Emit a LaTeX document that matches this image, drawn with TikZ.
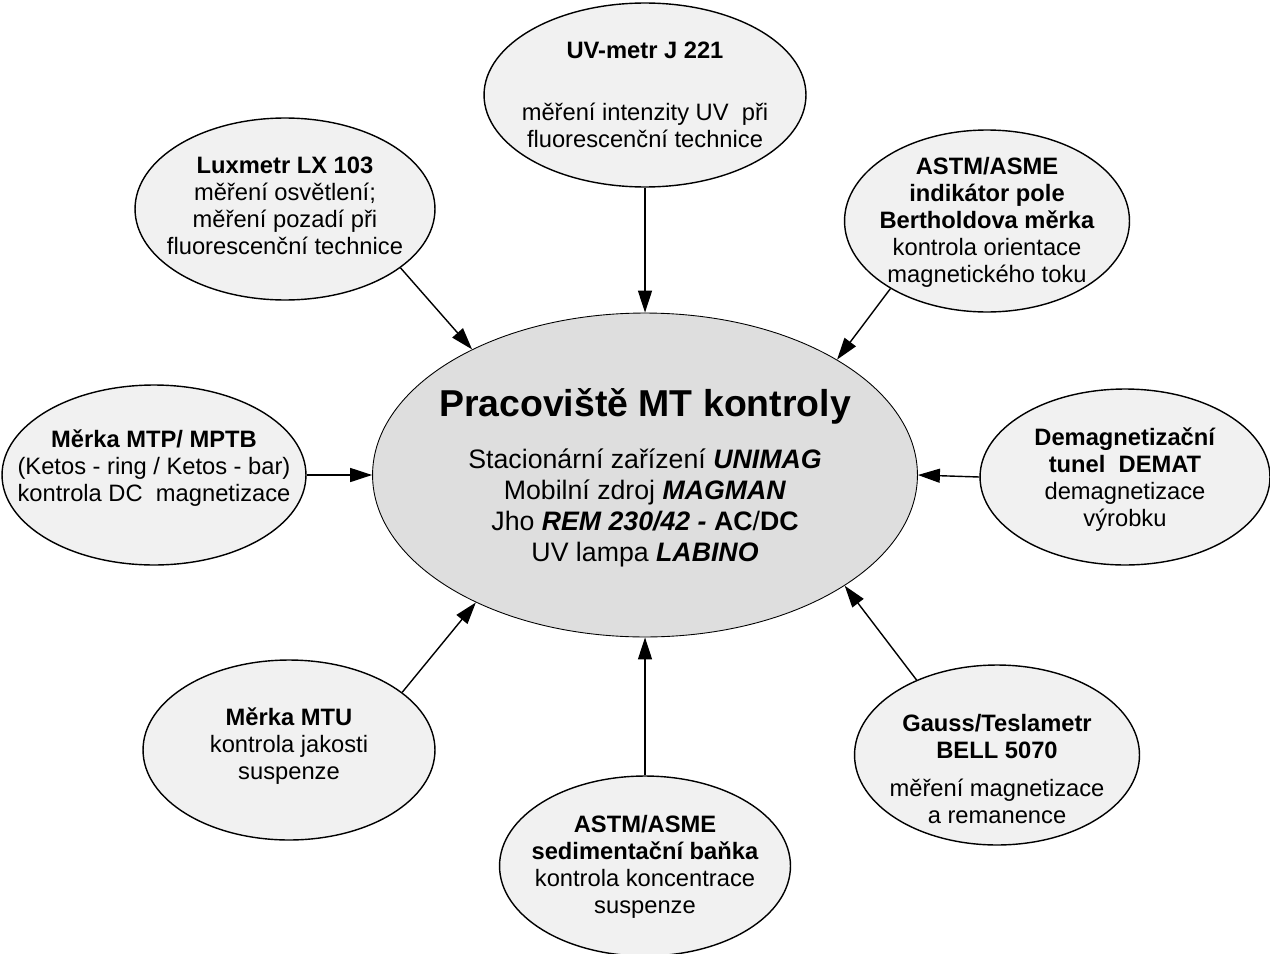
\documentclass[tikz,border=0pt]{standalone}
\usepackage{fontspec}
\setmainfont{Liberation Sans}
\usepackage{xcolor}
\usepackage{tikz}
\usetikzlibrary{shapes.geometric, arrows.meta}
\definecolor{hubgray}{HTML}{DEDEDE}
\definecolor{satgray}{HTML}{F1F1F1}
\tikzset{
  hub/.style={ellipse, draw, fill=hubgray, line width=0.5pt, minimum width=10.9cm, minimum height=6.48cm, inner sep=0pt},
  sat/.style={ellipse, draw, fill=satgray, line width=0.8pt, inner sep=0pt},
  txt/.style={align=center, font=\fontsize{13.5}{15.4}\selectfont},
  arrow/.style={-{Triangle[length=0.44cm, width=0.28cm]}, line width=0.8pt},
}

\begin{document}
\begin{tikzpicture}[x=0.02cm, y=-0.02cm]
    \useasboundingbox (0,0) rectangle (1270,953);
    % ellipses
    \node[hub] (main) at (645,475) {};
    \node[sat, minimum width=6.44cm, minimum height=3.68cm] (uv) at (645,95) {};
    \node[sat, minimum width=6.0cm, minimum height=3.64cm] (lux) at (285,209) {};
    \node[sat, minimum width=5.7cm, minimum height=3.64cm] (indik) at (987,221) {};
    \node[sat, minimum width=6.08cm, minimum height=3.6cm] (mtp) at (154,475) {};
    \node[sat, minimum width=5.8cm, minimum height=3.52cm] (demag) at (1125,477) {};
    \node[sat, minimum width=5.84cm, minimum height=3.6cm] (mtu) at (289,750) {};
    \node[sat, minimum width=5.7cm, minimum height=3.6cm] (gauss) at (997,755) {};
    \node[sat, minimum width=5.82cm, minimum height=3.6cm] (banka) at (645,866) {};
    % texts
    \node[align=center, font=\fontsize{21.3}{24}\selectfont\bfseries] (maintitle) at (645,406) {Pracoviště MT kontroly};
    \node[align=center, font=\fontsize{15.2}{17.6}\selectfont] (maintext) at (645,508)
      {Stacionární zařízení \textbf{\textit{UNIMAG}}\\
       Mobilní zdroj \textbf{\textit{MAGMAN}}\\
       Jho \textbf{\textit{REM 230/42 -}} \textbf{AC}/\textbf{DC}\\
       UV lampa \textbf{\textit{LABINO}}};
    \node[txt] (uvtext) at (645,95)
      {\textbf{UV-metr J 221}\\[0.7cm]měření intenzity UV\ \ při\\fluorescenční technice};
    \node[txt] (luxtext) at (285,206)
      {\textbf{Luxmetr LX 103}\\měření osvětlení;\\měření pozadí při\\fluorescenční technice};
    \node[txt] (indiktext) at (987,222)
      {\textbf{ASTM/ASME}\\\textbf{indikátor pole}\\\textbf{Bertholdova měrka}\\kontrola orientace\\magnetického toku};
    \node[txt] (mtptext) at (154,468)
      {\textbf{Měrka MTP/ MPTB}\\(Ketos - ring / Ketos - bar)\\kontrola DC\ \ magnetizace};
    \node[txt] (demagtext) at (1125,480)
      {\textbf{Demagnetizační}\\\textbf{tunel\ \ DEMAT}\\demagnetizace\\výrobku};
    \node[txt] (mtutext) at (289,746)
      {\textbf{Měrka MTU}\\kontrola jakosti\\suspenze};
    \node[txt] (gausstext) at (997,769)
      {\textbf{Gauss/Teslametr}\\\textbf{BELL 5070}\\[0.2cm]měření magnetizace\\a remanence};
    \node[txt] (bankatext) at (645,867)
      {\textbf{ASTM/ASME}\\\textbf{sedimentační baňka}\\kontrola koncentrace\\suspenze};
    % arrows
    \draw[arrow] (uv.south) -- (main.north);
    \draw[arrow] (lux.-27.6) -- (main.144.8);
    \draw[arrow] (indik.215.7) -- (main.31.4);
    \draw[arrow] (mtp.east) -- (main.west);
    \draw[arrow] (demag.west) -- (main.east);
    \draw[arrow] (mtu.27.5) -- (main.217.5);
    \draw[arrow] (gauss.137.7) -- (main.-29.5);
    \draw[arrow] (banka.north) -- (main.south);
\end{tikzpicture}
\end{document}
